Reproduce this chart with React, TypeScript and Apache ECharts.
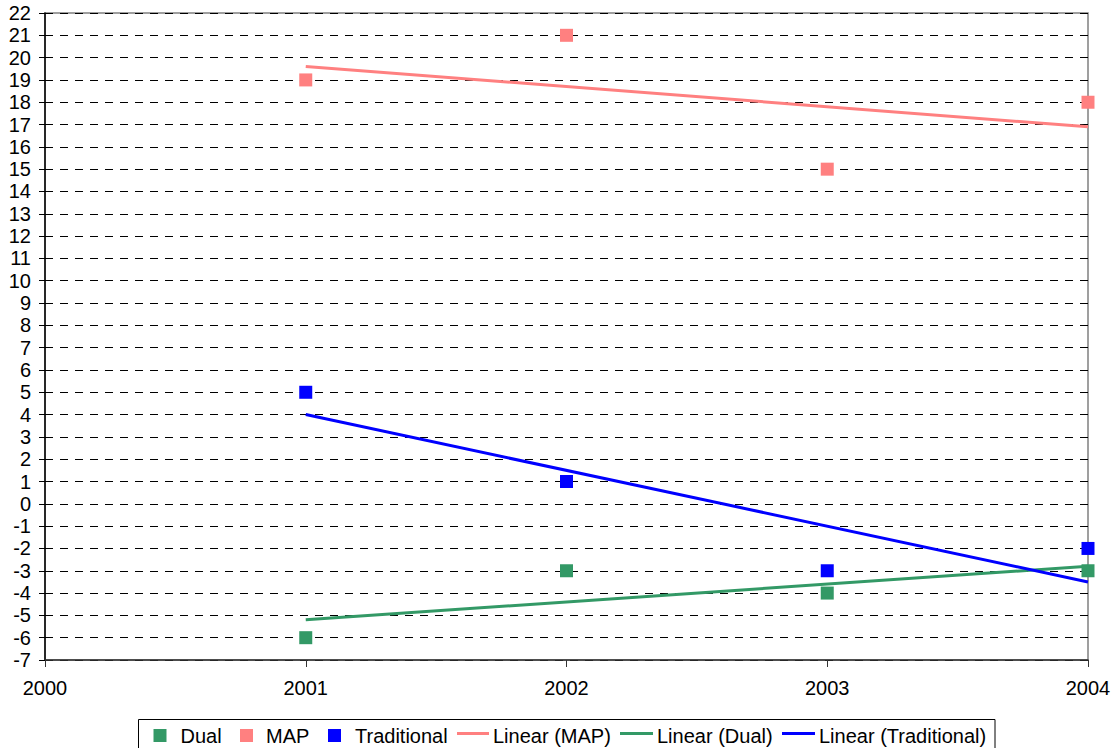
import React, { useEffect, useRef } from "react";
import * as echarts from "echarts";

// Survey years and measured values per group
const years = [2001, 2002, 2003, 2004];
const dualValues = [-6, -3, -4, -3];
const mapValues = [19, 21, 15, 18];
const traditionalValues = [5, 1, -3, -2];

// Axis ranges
const xMin = 2000;
const xMax = 2004;
const yMin = -7;
const yMax = 22;

const COLOR_DUAL = "#339966";
const COLOR_MAP = "#ff8080";
const COLOR_TRAD = "#0000ff";

const FONT = "Liberation Sans, Arial, sans-serif";

// Least-squares trend line evaluated at the first and last year
function linearTrend(xs: number[], ys: number[]): [number, number][] {
  const n = xs.length;
  const mx = xs.reduce((a, b) => a + b, 0) / n;
  const my = ys.reduce((a, b) => a + b, 0) / n;
  let sxy = 0;
  let sxx = 0;
  for (let i = 0; i < n; i++) {
    sxy += (xs[i] - mx) * (ys[i] - my);
    sxx += (xs[i] - mx) * (xs[i] - mx);
  }
  const slope = sxy / sxx;
  const first = xs[0];
  const last = xs[n - 1];
  return [
    [first, my + slope * (first - mx)],
    [last, my + slope * (last - mx)],
  ];
}

function pairs(xs: number[], ys: number[]): [number, number][] {
  return xs.map((x, i) => [x, ys[i]]);
}

export default function App() {
  const ref = useRef<HTMLDivElement>(null);

  useEffect(() => {
    if (!ref.current) return;
    const chart = echarts.init(ref.current, null, { renderer: "svg" });

    const legendY = 735.5;
    const legendText = (x: number, text: string) => ({
      type: "text",
      x,
      y: legendY,
      style: {
        text,
        font: `20px ${FONT}`,
        fill: "#000",
        verticalAlign: "middle",
        textAlign: "left",
      },
    });
    const legendSquare = (x: number, color: string) => ({
      type: "rect",
      shape: { x, y: legendY - 6.5, width: 13, height: 13 },
      style: { fill: color },
    });
    const legendLine = (x1: number, x2: number, color: string) => ({
      type: "line",
      shape: { x1, y1: legendY - 2, x2, y2: legendY - 2 },
      style: { stroke: color, lineWidth: 3 },
    });

    const scatter = (name: string, values: number[], color: string) => ({
      name,
      type: "scatter",
      data: pairs(years, values),
      symbol: "rect",
      symbolSize: 13,
      itemStyle: { color, opacity: 1 },
      z: 4,
    });

    const trend = (name: string, values: number[], color: string) => ({
      name,
      type: "line",
      data: linearTrend(years, values),
      symbol: "none",
      lineStyle: { color, width: 3 },
      z: 3,
    });

    chart.setOption({
      animation: false,
      backgroundColor: "#fff",
      grid: {
        left: 45,
        right: 27,
        top: 13,
        bottom: 88,
        show: true,
        borderColor: "#808080",
        borderWidth: 1.5,
      },
      xAxis: {
        type: "value",
        min: xMin,
        max: xMax,
        interval: 1,
        axisLine: { show: true, onZero: false, lineStyle: { color: "#333", width: 1.5 } },
        axisTick: { show: true, length: 7, lineStyle: { color: "#333" } },
        axisLabel: {
          color: "#000",
          fontSize: 20,
          fontFamily: FONT,
          margin: 18,
          showMaxLabel: true,
          showMinLabel: true,
          formatter: (v: number) => String(v),
        },
        splitLine: { show: false },
      },
      yAxis: {
        type: "value",
        min: yMin,
        max: yMax,
        interval: 1,
        axisLine: { show: true, onZero: false, lineStyle: { color: "#000", width: 1.5 } },
        axisTick: { show: true, length: 6, lineStyle: { color: "#000" } },
        axisLabel: {
          color: "#000",
          fontSize: 20,
          fontFamily: FONT,
          margin: 14,
        },
        splitLine: {
          show: true,
          lineStyle: { color: "#000", type: [8, 7], width: 1 },
        },
      },
      series: [
        trend("Linear (MAP)", mapValues, COLOR_MAP),
        trend("Linear (Dual)", dualValues, COLOR_DUAL),
        trend("Linear (Traditional)", traditionalValues, COLOR_TRAD),
        scatter("Dual", dualValues, COLOR_DUAL),
        scatter("MAP", mapValues, COLOR_MAP),
        scatter("Traditional", traditionalValues, COLOR_TRAD),
      ],
      graphic: [
        {
          type: "rect",
          shape: { x: 138.5, y: 719.5, width: 856.5, height: 40 },
          style: { fill: "#fff", stroke: "#000", lineWidth: 1 },
        },
        legendSquare(153.5, COLOR_DUAL),
        legendText(180.5, "Dual"),
        legendSquare(240, COLOR_MAP),
        legendText(266, "MAP"),
        legendSquare(328, COLOR_TRAD),
        legendText(355, "Traditional"),
        legendLine(457, 489, COLOR_MAP),
        legendText(493, "Linear (MAP)"),
        legendLine(620, 653, COLOR_DUAL),
        legendText(657, "Linear (Dual)"),
        legendLine(782, 815, COLOR_TRAD),
        legendText(819, "Linear (Traditional)"),
      ],
    });

    return () => chart.dispose();
  }, []);

  return (
    <div
      ref={ref}
      style={{ position: "fixed", left: 0, top: 0, width: 1115, height: 748 }}
    />
  );
}
